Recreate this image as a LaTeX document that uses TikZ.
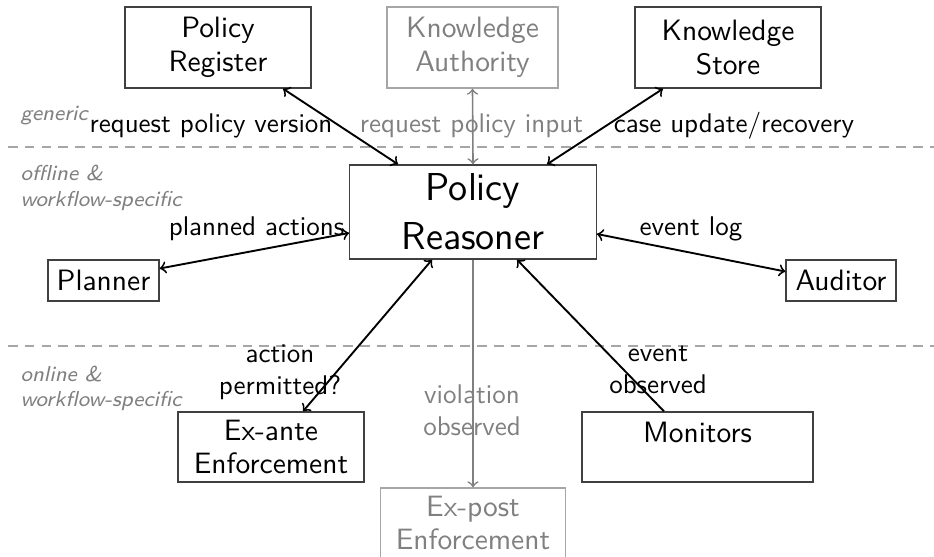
\documentclass[tikz,border=0pt]{standalone}
\usetikzlibrary{calc}
\begin{document}
\begin{tikzpicture}[x=0.37pt,y=-0.37pt,
  font=\sffamily,
  boxfont/.style={font=\sffamily\fontsize{10.9pt}{12.4pt}\selectfont},
  box/.style={draw=black!75,line width=0.5pt,align=center,inner sep=0pt,boxfont},
  faintbox/.style={draw=black!35,line width=0.5pt,align=center,inner sep=0pt,text=black!50,boxfont},
  lbl/.style={align=center,inner sep=0pt},
  faintlbl/.style={align=center,inner sep=0pt,text=black!50},
  zone/.style={align=left,inner sep=0pt,anchor=west,font=\sffamily\itshape\footnotesize,text=black!50},
  flow/.style={<->,line width=0.7pt},
  faintflow/.style={line width=0.6pt,draw=black!50},
  divider/.style={draw=black!35,line width=0.6pt,dash pattern=on 3.6pt off 2.6pt}]
\useasboundingbox (0,0) rectangle (934,556);

% layer dividers
\coordinate (d1a) at (8,147);  \coordinate (d1b) at (934,147);
\coordinate (d2a) at (8,346);  \coordinate (d2b) at (934,346);
\draw[divider] (d1a) -- (d1b);
\draw[divider] (d2a) -- (d2b);

% layer captions
\node[zone] (generic) at (20,116) {generic};
\node[zone] (offline) at (20,188) {offline \&\\workflow-specific};
\node[zone] (online) at (20,388.5) {online \&\\workflow-specific};

% components
\node[box,minimum width=68.8pt,minimum height=30pt] (register) at (218,47.5) {Policy\\Register};
\node[faintbox,minimum width=63.3pt,minimum height=30pt] (authority) at (472.5,47.5) {Knowledge\\Authority};
\node[box,minimum width=68.8pt,minimum height=30pt] (store) at (728,47.5) {Knowledge\\Store};
\node[box,minimum width=91.2pt,minimum height=34.8pt,font=\sffamily\Large] (reasoner) at (473,212) {Policy\\Reasoner};
\node[box,minimum width=41.1pt,minimum height=15.2pt] (planner) at (103.5,280.5) {Planner};
\node[box,minimum width=40.7pt,minimum height=15.2pt] (auditor) at (841,280.5) {Auditor};
\node[box,minimum width=68.8pt,minimum height=25.9pt] (exante) at (271,447) {Ex-ante\\Enforcement};
\node[box,minimum width=85.5pt,minimum height=25.9pt,text height=7.6pt,text depth=11pt] (monitors) at (697.5,447) {Monitors};
\node[faintbox,minimum width=68.5pt,minimum height=25.9pt] (expost) at (473,523) {Ex-post\\Enforcement};

% connectors
\draw[flow] ($(register.south)+(65,0)$) -- ($(reasoner.north)+(-75,0)$);
\draw[faintflow,<->] (authority.south) -- (reasoner.north);
\draw[flow] ($(store.south)+(-65,0)$) -- ($(reasoner.north)+(74,0)$);
\draw[flow] ($(planner.east)+(0,-12)$) -- ($(reasoner.west)+(0,21)$);
\draw[flow] ($(auditor.west)+(0,-9)$) -- ($(reasoner.east)+(0,22)$);
\draw[flow] ($(exante.north)+(32,0)$) -- ($(reasoner.south)+(-41,0)$);
\draw[flow,<-] ($(reasoner.south)+(44,0)$) -- ($(monitors.north)+(-33.5,0)$);
\draw[faintflow,->] (reasoner.south) -- (expost.north);

% connector labels
\node[lbl] (lpolicy) at (211,126) {request policy version};
\node[faintlbl] (linput) at (471.5,126) {request policy input};
\node[lbl] (lcase) at (734,126) {case update/recovery};
\node[lbl] (lplanned) at (256.5,229) {planned actions};
\node[lbl] (llog) at (691,229) {event log};
\node[lbl] (lpermit) at (280,372) {action\\permitted?};
\node[faintlbl] (lviol) at (472,410.5) {violation\\observed};
\node[lbl] (levent) at (658,370) {event\\observed};
\end{tikzpicture}
\end{document}
